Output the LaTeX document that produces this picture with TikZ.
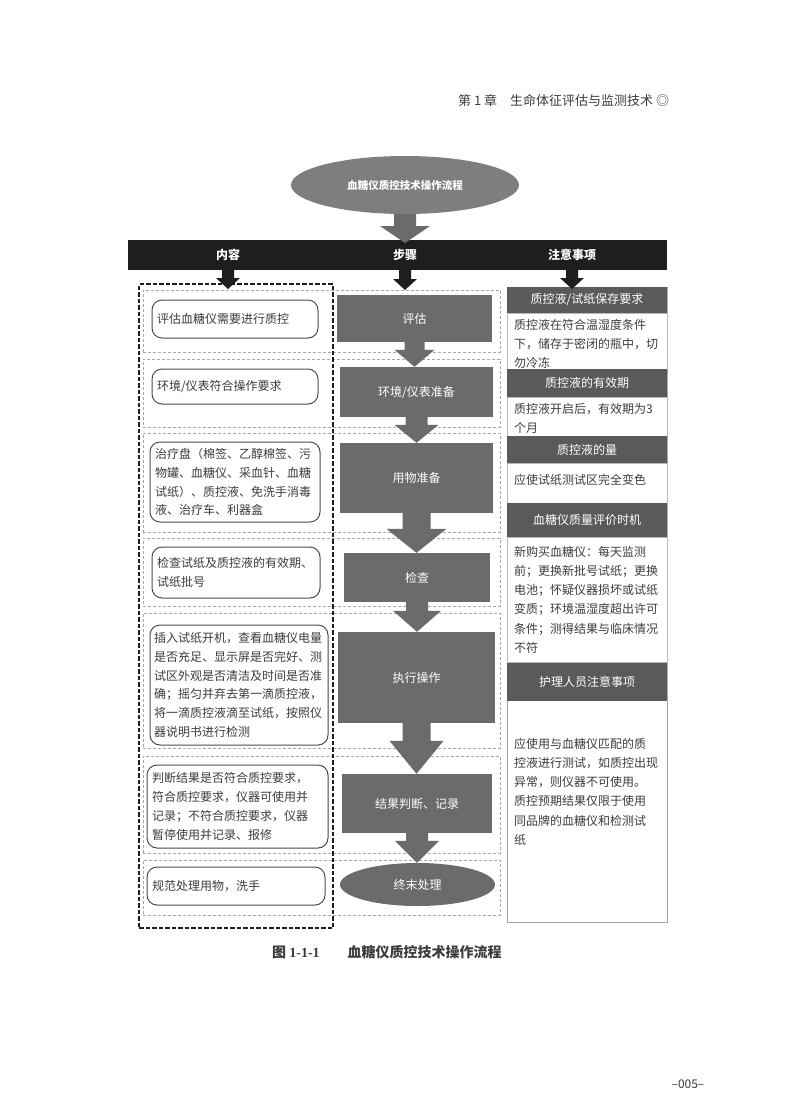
\documentclass[tikz,border=0pt]{standalone}
\usepackage{fontspec}
\setmainfont{Liberation Serif}
\newfontfamily\cjk{Noto Sans CJK SC}
\usetikzlibrary{shapes.geometric,calc}
\definecolor{midgray}{HTML}{6B6B6B}
\definecolor{titlegray}{HTML}{7E7E7E}
\definecolor{hdrgray}{HTML}{5A5A5A}
\definecolor{barblack}{HTML}{1E1E1E}
\definecolor{textgray}{HTML}{3C3C3C}
\definecolor{rowgray}{HTML}{A8A8A8}
\newcommand{\blockarrow}[6]{%
  \fill[#1] let \p1=(#2), \p2=(#3) in
    (\x1-#4pt,\y1) -- (\x1+#4pt,\y1) -- (\x1+#4pt,\y2+#6pt) -- (\x1+#5pt,\y2+#6pt)
    -- (\x1,\y2) -- (\x1-#5pt,\y2+#6pt) -- (\x1-#4pt,\y2+#6pt) -- cycle;}
\begin{document}
\begin{tikzpicture}[x=1pt,y=-1pt,font=\cjk,
  rowbox/.style={draw=rowgray,densely dashed,line width=0.6pt,minimum width=357pt,inner sep=0pt},
  lbox/.style={draw=gray!60!black,rounded corners=10pt,line width=1pt,align=left,inner xsep=5pt,inner ysep=0pt,
    text=textgray,font=\cjk\fontsize{12}{18.8}\selectfont},
  mbox/.style={fill=midgray,text=white,inner sep=0pt,font=\cjk\fontsize{12}{14}\selectfont},
  rhead/.style={fill=hdrgray,text=white,minimum width=160pt,inner sep=0pt,font=\cjk\fontsize{12}{14}\selectfont},
  rbody/.style={draw=gray!55,line width=0.5pt,minimum width=160pt,inner sep=0pt},
  rtext/.style={anchor=north west,inner sep=0pt,align=left,text=textgray,font=\cjk\fontsize{12}{19.2}\selectfont},
  midarrow/.style={fill=midgray},
  blkarrow/.style={fill=barblack},
  barlabel/.style={text=white,font=\cjk\bfseries\fontsize{12}{14}\selectfont,inner sep=0pt}]
\useasboundingbox[fill=white] (0,0) rectangle (800,1106);

% page header
\node[anchor=west,text=textgray,inner sep=0pt,font=\cjk\fontsize{13}{15}\selectfont] (pghead) at (458,100)
  {第 1 章\quad 生命体征评估与监测技术 ◎};

% title
\node[ellipse,fill=titlegray,minimum width=228pt,minimum height=58pt,inner sep=0pt,text=white,
  font=\cjk\bfseries\fontsize{10.5}{12}\selectfont] (title) at (405,185) {血糖仪质控技术操作流程};

% black bar
\node[fill=barblack,minimum width=539pt,minimum height=30pt,inner sep=0pt] (bar) at (397.5,255) {};
\node[barlabel] (lab1) at (228,255) {内容};
\node[barlabel] (lab2) at (405,255) {步骤};
\node[barlabel] (lab3) at (572,255) {注意事项};
\coordinate (tt) at (405,243);
\blockarrow{midarrow}{title.south}{tt}{11}{25}{17}

% row dotted boxes
\node[rowbox,minimum height=62pt] (r1) at (321.5,321) {};
\node[rowbox,minimum height=68pt] (r2) at (321.5,393) {};
\node[rowbox,minimum height=99pt] (r3) at (321.5,482.5) {};
\node[rowbox,minimum height=68pt] (r4) at (321.5,572) {};
\node[rowbox,minimum height=135pt] (r5) at (321.5,680.5) {};
\node[rowbox,minimum height=97pt] (r6) at (321.5,804.5) {};
\node[rowbox,minimum height=55pt] (r7) at (321.5,887.5) {};

% thick dashed left column
\node[draw=barblack,dash pattern=on 4.5pt off 2pt,line width=1.5pt,minimum width=194pt,minimum height=644pt,inner sep=0pt] (lcol) at (236,606) {};

% left boxes
\node[lbox,minimum width=166pt,minimum height=38pt,text width=156pt] (l1) at (235,319) {评估血糖仪需要进行质控};
\node[lbox,minimum width=166pt,minimum height=35pt,text width=156pt] (l2) at (235,386.5) {环境/仪表符合操作要求};
\node[lbox,minimum width=170pt,minimum height=80pt,text width=160pt] (l3) at (235,482)
  {治疗盘（棉签、乙醇棉签、污\\物罐、血糖仪、采血针、血糖\\试纸）、质控液、免洗手消毒\\液、治疗车、利器盒};
\node[lbox,minimum width=168pt,minimum height=51pt,text width=158pt] (l4) at (236,572.5)
  {检查试纸及质控液的有效期、\\试纸批号};
\node[lbox,minimum width=178pt,minimum height=120pt,text width=170pt,inner xsep=4pt] (l5) at (239,685)
  {插入试纸开机，查看血糖仪电量\\是否充足、显示屏是否完好、测\\试区外观是否清洁及时间是否准\\确；摇匀并弃去第一滴质控液，\\将一滴质控液滴至试纸，按照仪\\器说明书进行检测};
\node[lbox,minimum width=181pt,minimum height=83pt,text width=171pt] (l6) at (237.5,806.5)
  {判断结果是否符合质控要求，\\符合质控要求，仪器可使用并\\记录；不符合质控要求，仪器\\暂停使用并记录、报修};
\node[lbox,minimum width=178pt,minimum height=38pt,text width=168pt] (l7) at (236,886) {规范处理用物，洗手};

% middle boxes
\node[mbox,minimum width=155pt,minimum height=47pt] (m1) at (414.5,318.5) {评估};
\node[mbox,minimum width=153pt,minimum height=50pt] (m2) at (416.5,392) {环境/仪表准备};
\node[mbox,minimum width=153pt,minimum height=70pt] (m3) at (416.5,478) {用物准备};
\node[mbox,minimum width=146pt,minimum height=49pt] (m4) at (417,577.5) {检查};
\node[mbox,minimum width=157pt,minimum height=91pt] (m5) at (416.5,677.5) {执行操作};
\node[mbox,minimum width=150pt,minimum height=59pt] (m6) at (417,803.5) {结果判断、记录};
\node[mbox,ellipse,minimum width=155pt,minimum height=43pt] (m7) at (417.5,884.5) {终末处理};

\blockarrow{midarrow}{m1.south}{m2.north}{10}{20}{17}
\blockarrow{midarrow}{m2.south}{m3.north}{11}{22}{18}
\blockarrow{midarrow}{m3.south}{m4.north}{14}{30}{24}
\blockarrow{midarrow}{m4.south}{m5.north}{11}{24}{21}
\blockarrow{midarrow}{m5.south}{m6.north}{14}{27}{33}
\blockarrow{midarrow}{m6.south}{m7.north}{11}{22}{22}

% right column
\node[draw=gray!70,line width=0.8pt,minimum width=160pt,minimum height=635pt,inner sep=0pt] (rcol) at (587,604.5) {};
\node[rbody,minimum height=56pt] (b1) at (587,341) {};
\node[rbody,minimum height=39pt] (b2) at (587,416.5) {};
\node[rbody,minimum height=40pt] (b3) at (587,483) {};
\node[rbody,minimum height=125pt] (b4) at (587,599.5) {};
\node[rhead,minimum height=26pt] (h1) at (587,300) {质控液/试纸保存要求};
\node[rhead,minimum height=28pt] (h2) at (587,383) {质控液的有效期};
\node[rhead,minimum height=27pt] (h3) at (587,449.5) {质控液的量};
\node[rhead,minimum height=34pt] (h4) at (587,520) {血糖仪质量评价时机};
\node[rhead,minimum height=38pt] (h5) at (587,682) {护理人员注意事项};

\node[rtext] (t1) at (514,319) {质控液在符合温湿度条件\\下，储存于密闭的瓶中，切\\勿冷冻};
\node[rtext] (t2) at (514,403) {质控液开启后，有效期为3\\个月};
\node[rtext] (t3) at (514,474) {应使试纸测试区完全变色};
\node[rtext] (t4) at (514,546) {新购买血糖仪：每天监测\\前；更换新批号试纸；更换\\电池；怀疑仪器损坏或试纸\\变质；环境温湿度超出许可\\条件；测得结果与临床情况\\不符};
\node[rtext] (t5) at (514,738) {应使用与血糖仪匹配的质\\控液进行测试，如质控出现\\异常，则仪器不可使用。\\质控预期结果仅限于使用\\同品牌的血糖仪和检测试\\纸};

% black arrows from bar
\coordinate (ka1) at (228,270); \coordinate (kb1) at (228,289);
\coordinate (ka2) at (405,270); \coordinate (kb2) at (405,290);
\coordinate (ka3) at (572,270); \coordinate (kb3) at (572,289);
\blockarrow{blkarrow}{ka1}{kb1}{6}{12}{11}
\blockarrow{blkarrow}{ka2}{kb2}{6}{12}{11}
\blockarrow{blkarrow}{ka3}{kb3}{6}{12}{11}

% caption
\node[anchor=west,inner sep=0pt,text=textgray,font=\cjk\bfseries\fontsize{14}{16}\selectfont] (cap) at (272,952)
  {图 {\rmfamily\bfseries 1-1-1}\hspace{2em}血糖仪质控技术操作流程};

% page number
\node[inner sep=0pt,text=textgray,font=\cjk\fontsize{12}{14}\selectfont] (pgnum) at (688,1084) {–005–};
\end{tikzpicture}
\end{document}
